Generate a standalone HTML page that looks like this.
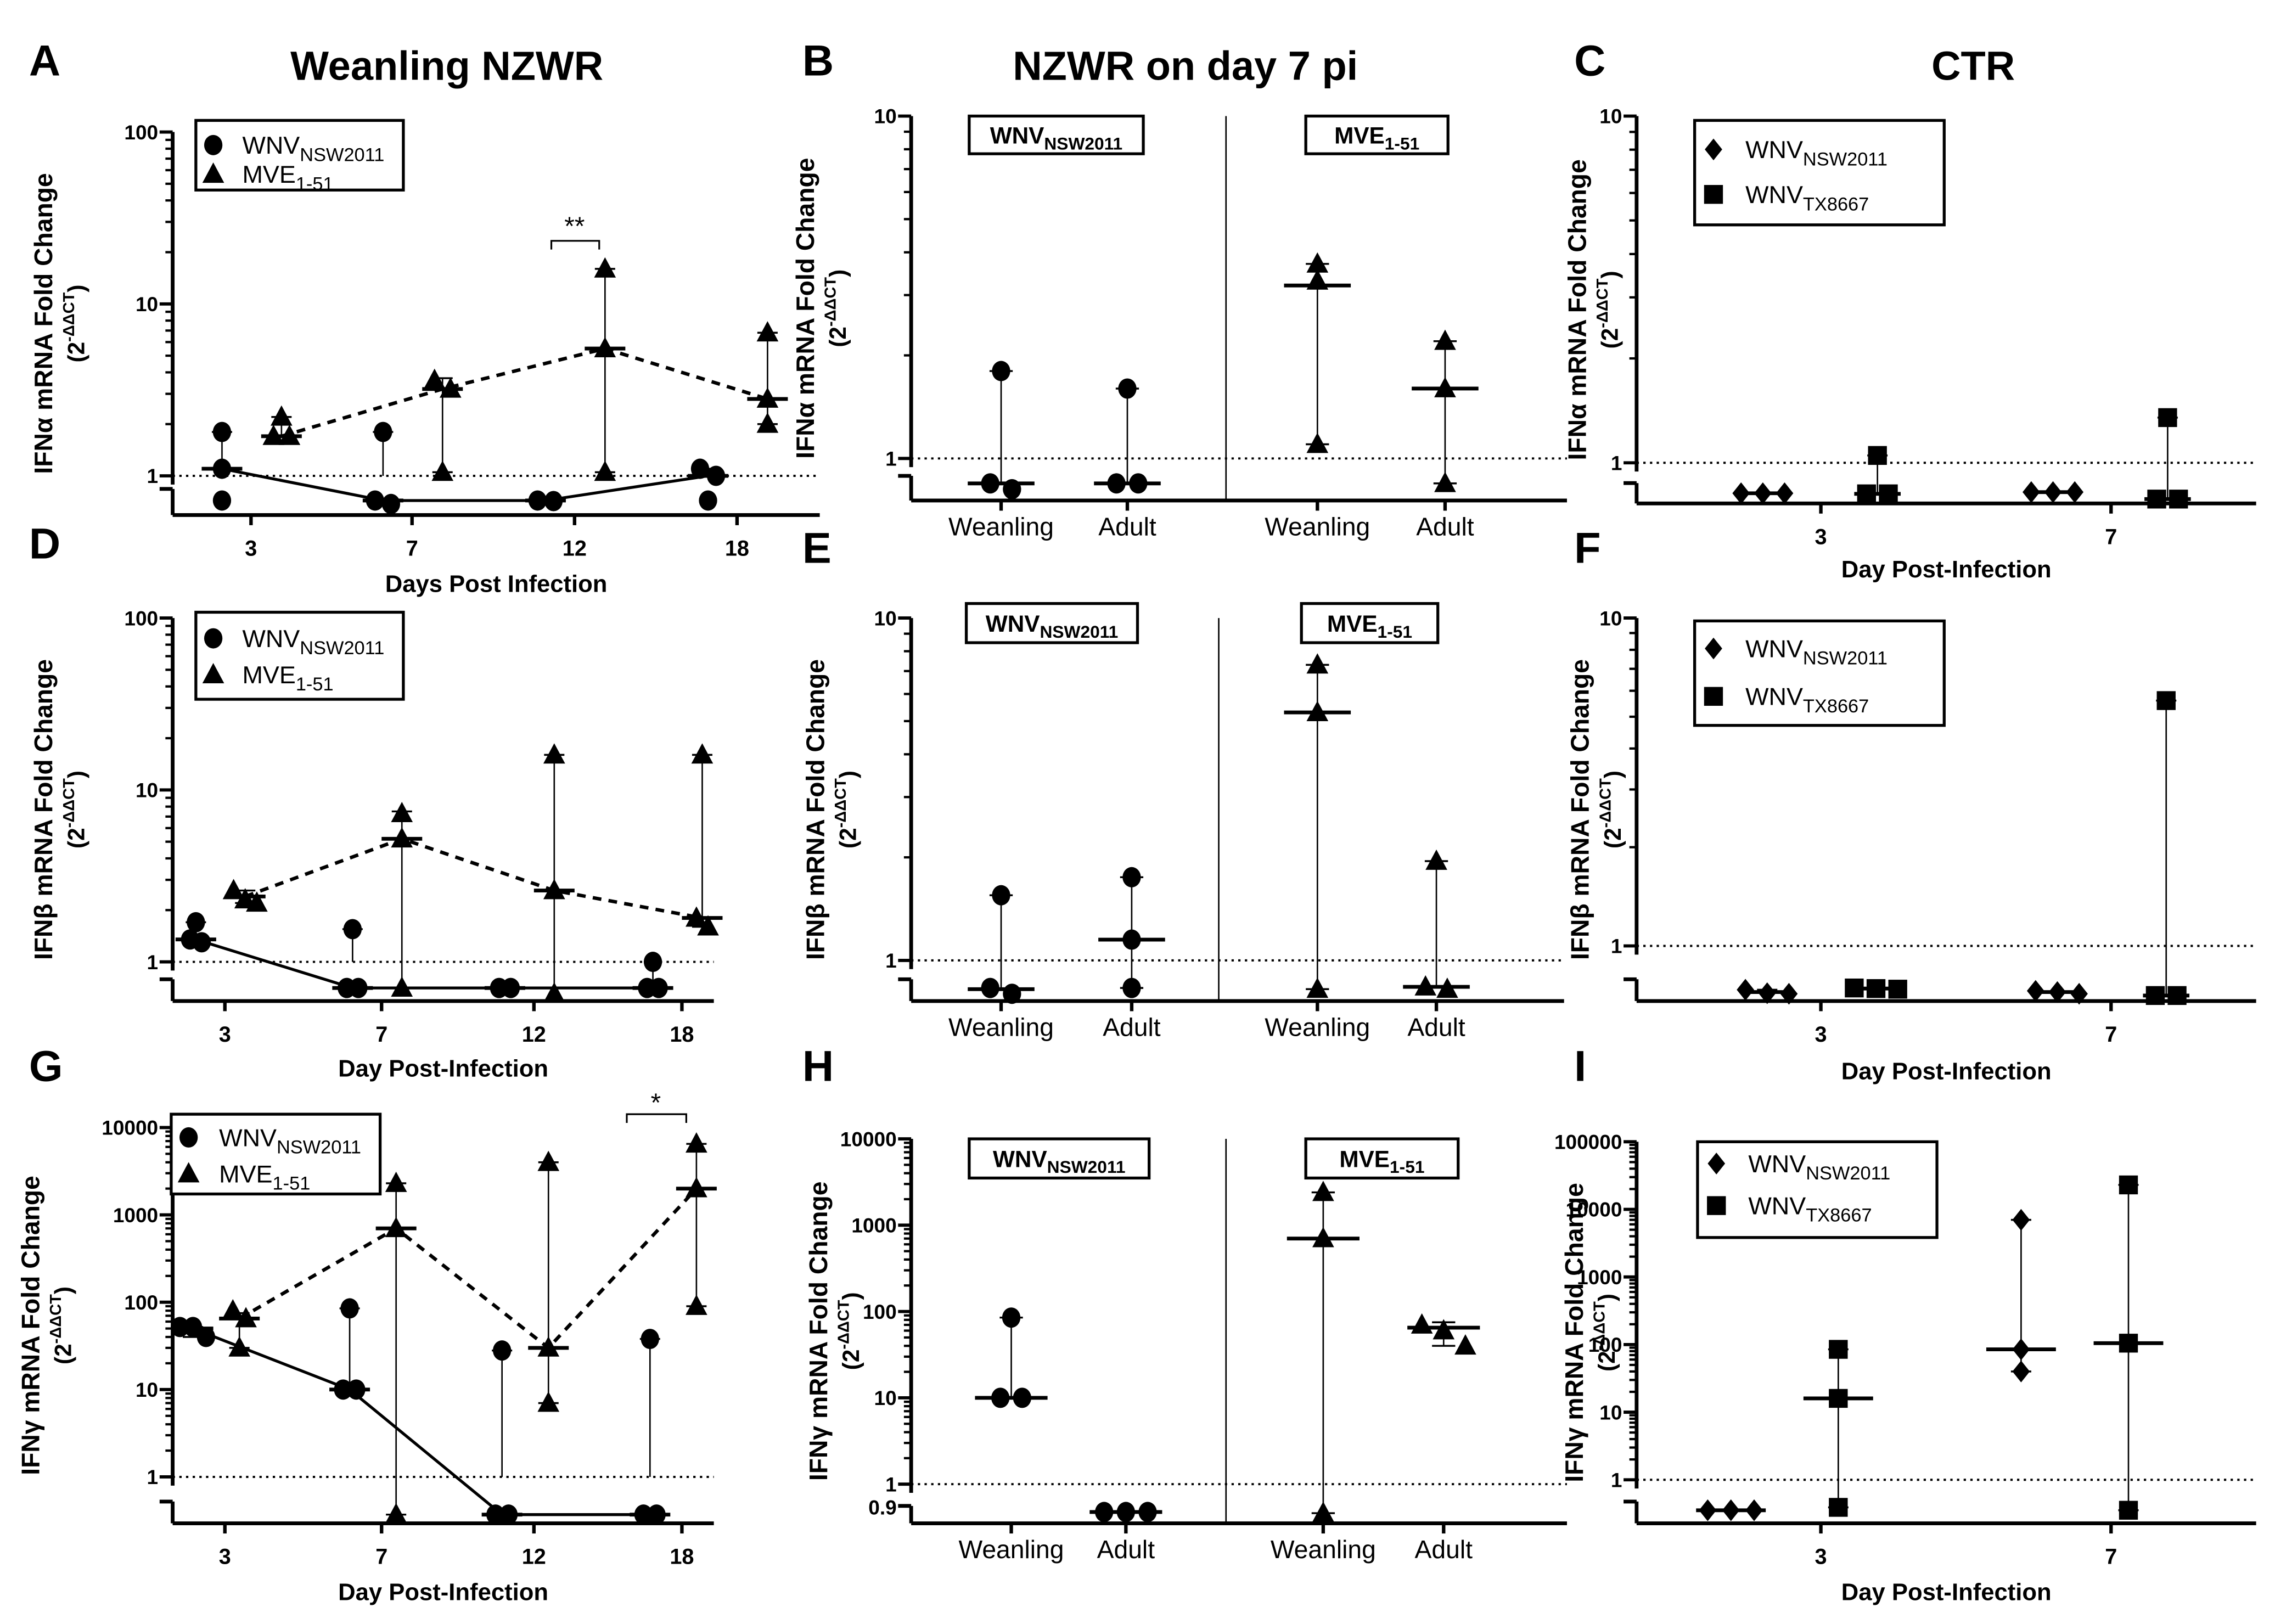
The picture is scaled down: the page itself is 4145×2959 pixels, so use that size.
<!DOCTYPE html>
<html><head><meta charset="utf-8">
<style>
html,body{margin:0;padding:0;background:#fff;}
svg{display:block;}
text{font-family:"Liberation Sans",Arial,sans-serif;fill:#000;}
</style></head>
<body>
<svg id="fig" xmlns="http://www.w3.org/2000/svg" width="4145" height="2959" viewBox="0 0 1568 1119.4" preserveAspectRatio="none">
<rect x="0" y="0" width="1568" height="1120" fill="#fff"/>
<g id="root"></g>
</svg>
<script>
// ---------- DATA ----------
const dayCats4 = ['3','7','12','18'];
const dayCats2 = ['3','7'];
const groupCats = ['Weanling','Adult','Weanling','Adult'];

// Panel A
const A_wnv = [[1.8,1.1,0.7],[1.8,0.64,0.7],[0.7,0.69],[1.1,1.0,0.7]];
const A_wnv_med = [1.1,0.7,0.7,1.0];
const A_wnv_lo = [1.1,1,0.7,1.0];
const A_wnv_hi = [1.8,1.8,0.7,1.1];
const A_mve = [[2.2,1.7,1.7],[3.6,3.2,1.05],[16,5.5,1.05],[6.8,2.8,2.0]];
const A_mve_med = [1.7,3.2,5.5,2.8];
const A_mve_lo = [1.7,1.05,1.05,2.0];
const A_mve_hi = [2.2,3.7,16,6.8];

// Panel B
const B_vals = [[1.8,0.62,0.72],[1.6,0.72,0.72],[3.7,3.3,1.1],[2.2,1.6,0.72]];
const B_med = [0.72,0.72,3.2,1.6];
const B_lo = [0.72,0.72,1.1,0.72];
const B_hi = [1.8,1.6,3.7,2.2];

// Panel C
const C_dia = [[0.7,0.7,0.7],[0.72,0.72,0.72]];
const C_dia_med = [0.7,0.72];
const C_dia_lo = [0.7,0.72];
const C_dia_hi = [0.7,0.72];
const C_sq = [[1.05,0.69,0.69],[1.35,0.6,0.6]];
const C_sq_med = [0.69,0.6];
const C_sq_lo = [0.69,0.6];
const C_sq_hi = [1.05,1.35];

// Panel D
const D_wnv = [[1.7,1.3,1.35],[1.55,0.7,0.7],[0.7,0.7],[1.0,0.7,0.7]];
const D_wnv_med = [1.35,0.7,0.7,0.7];
const D_wnv_lo = [1.3,1,0.7,0.7];
const D_wnv_hi = [1.7,1.55,0.7,1.0];
const D_mve = [[2.6,2.2,2.3],[7.3,5.2,0.7],[16,2.6,0.6],[16,1.6,1.8]];
const D_mve_med = [2.4,5.2,2.6,1.8];
const D_mve_lo = [2.2,0.7,0.7,1.6];
const D_mve_hi = [2.6,7.5,16,16];

// Panel E
const E_vals = [[1.55,0.6,0.7],[1.75,1.15,0.7],[7.3,5.3,0.68],[1.95,0.68,0.72]];
const E_med = [0.68,1.15,5.3,0.72];
const E_lo = [0.68,0.7,0.68,0.72];
const E_hi = [1.55,1.75,7.3,1.95];

// Panel F
const F_dia = [[0.72,0.66,0.65],[0.7,0.65,0.68]];
const F_dia_med = [0.68,0.68];
const F_dia_lo = [0.68,0.68];
const F_dia_hi = [0.72,0.7];
const F_sq = [[0.75,0.73,0.74],[5.6,0.62,0.62]];
const F_sq_med = [0.74,0.62];
const F_sq_lo = [0.74,0.62];
const F_sq_hi = [0.75,5.6];

// Panel G
const G_wnv = [[52,52,40],[85,10,10],[28,0.7,0.7],[38,0.7,0.7]];
const G_wnv_med = [50,10,0.7,0.7];
const G_wnv_lo = [40,10,1,1];
const G_wnv_hi = [52,85,28,38];
const G_mve = [[80,65,30],[2300,700,0.7],[4000,30,7],[6500,2000,90]];
const G_mve_med = [65,700,30,2000];
const G_mve_lo = [30,0.7,7,90];
const G_mve_hi = [75,2300,4000,6500];

// Panel H
const H_vals = [[85,10,10],[0.72,0.72,0.72],[2400,700,0.7],[70,60,40]];
const H_med = [10,0.72,700,65];
const H_lo = [10,0.72,0.7,40];
const H_hi = [85,0.72,2400,75];

// Panel I
const I_dia = [[0.7,0.7,0.7],[7000,85,40]];
const I_dia_med = [0.7,85];
const I_dia_lo = [0.7,40];
const I_dia_hi = [0.7,7000];
const I_sq = [[85,16,0.75],[23000,105,0.7]];
const I_sq_med = [16,105];
const I_sq_lo = [0.75,0.7];
const I_sq_hi = [85,23000];

// ---------- RENDER ----------
const NS='http://www.w3.org/2000/svg';
const root=document.getElementById('root');
function el(tag,attrs,parent){const e=document.createElementNS(NS,tag);for(const k in attrs)e.setAttribute(k,attrs[k]);(parent||root).appendChild(e);return e;}
function txt(s,attrs,parent){const t=el('text',attrs,parent);t.textContent=s;return t;}

function yOf(P,v){return v>=1? P.yOne-Math.log10(v)*P.dec : P.yLow+(0.7-v)*40;}

function marker(g,shape,x,y){
  let m;
  if(shape==='circle') m=el('ellipse',{cx:x,cy:y,rx:6.3,ry:7,fill:'#000'},g);
  else if(shape==='tri') m=el('polygon',{points:`${x},${y-8} ${x+7.5},${y+6} ${x-7.5},${y+6}`,fill:'#000'},g);
  else if(shape==='dia') m=el('polygon',{points:`${x},${y-7.5} ${x+6},${y} ${x},${y+7.5} ${x-6},${y}`,fill:'#000'},g);
  else m=el('rect',{x:x-6.5,y:y-6.5,width:13,height:13,fill:'#000'},g);
  
  
}

function drawAxes(g,P,cats){
  const top=P.yOne-P.nDec*P.dec;
  let a=el('line',{x1:P.ax,y1:top,x2:P.ax,y2:P.yOne+6,stroke:'#000','stroke-width':2.6},g);
  
  el('line',{x1:P.ax,y1:P.yGap,x2:P.ax,y2:P.axisY,stroke:'#000','stroke-width':2.6},g);
  el('line',{x1:P.ax-9,y1:P.yGap,x2:P.ax,y2:P.yGap,stroke:'#000','stroke-width':2.6},g);
  for(let d=0;d<=P.nDec;d++){
    const y=P.yOne-d*P.dec;
    el('line',{x1:P.ax-9,y1:y,x2:P.ax,y2:y,stroke:'#000','stroke-width':2.2},g);
    const t=txt(String(Math.pow(10,d)),{x:P.ax-10,y:y+5,'text-anchor':'end','font-size':14,'font-weight':'bold'},g);
    
    if(d<P.nDec) for(let k=2;k<=9;k++){const yy=y-Math.log10(k)*P.dec;el('line',{x1:P.ax-5,y1:yy,x2:P.ax,y2:yy,stroke:'#000','stroke-width':1.6},g);}
  }
  if(P.lowLabel){const t=txt(P.lowLabel,{x:P.ax-10,y:P.yGap+6,'text-anchor':'end','font-size':14,'font-weight':'bold'},g);}
  let x=el('line',{x1:P.ax,y1:P.axisY,x2:P.x1,y2:P.axisY,stroke:'#000','stroke-width':2.6},g);
  
  el('line',{x1:P.ax,y1:P.yOne,x2:P.x1,y2:P.yOne,stroke:'#000','stroke-width':1.5,'stroke-dasharray':'1.6,3'},g);
  cats.forEach((c,i)=>{
    const cx=P.cats[i];
    el('line',{x1:cx,y1:P.axisY,x2:cx,y2:P.axisY+7,stroke:'#000','stroke-width':2.4},g);
    const t=txt(c,{x:cx,y:P.axisY+(P.catWords?24:28),'text-anchor':'middle','font-size':P.catWords?17.5:15,'font-weight':P.catWords?'normal':'bold'},g);
    
  });
  if(P.xtitle){const t=txt(P.xtitle,{x:(P.ax+P.x1)/2,y:P.xtitleY,'text-anchor':'middle','font-size':16.5,'font-weight':'bold'},g);}
  // y title
  const cy=(top+P.axisY)/2;
  const t1=txt(P.ytitle+' mRNA Fold Change',{x:0,y:0,'text-anchor':'middle','font-size':17.5,'font-weight':'bold',transform:`translate(${P.ax+P.tOff},${cy}) rotate(-90)`},g);
  
  const t2=el('text',{x:0,y:0,'text-anchor':'middle','font-size':16,'font-weight':'bold',transform:`translate(${P.ax+P.tOff+22},${cy}) rotate(-90)`},g);
  
  t2.appendChild(document.createTextNode('(2'));
  const s=el('tspan',{dy:-7,'font-size':11},t2);s.textContent='-ΔΔCT';
  const s2=el('tspan',{dy:7},t2);s2.textContent=')';
}

function drawSeries(g,P,S){
  const meds=[];
  S.vals.forEach((vals,i)=>{
    const cx=P.cats[S.catIdx?S.catIdx[i]:i]+(S.off||0);
    const yl=yOf(P,S.lo[i]),yh=yOf(P,S.hi[i]),ym=yOf(P,S.med[i]);
    if(Math.abs(yl-yh)>1){
      const e=el('line',{x1:cx,y1:yl,x2:cx,y2:yh,stroke:'#000','stroke-width':1},g);
      
      [[yl,S.lo[i]],[yh,S.hi[i]]].forEach(([y,v])=>{if(Math.abs(y-ym)>1 && v!==1)el('line',{x1:cx-P.capW/2,y1:y,x2:cx+P.capW/2,y2:y,stroke:'#000','stroke-width':1.3},g);});
    }
    const mb=el('line',{x1:cx-P.medW/2,y1:ym,x2:cx+P.medW/2,y2:ym,stroke:'#000','stroke-width':2.6},g);
    
    meds.push([cx,ym]);
    const ys=vals.map(v=>yOf(P,v));
    const idx=ys.map((y,k)=>k).sort((a,b)=>ys[a]-ys[b]);
    let clusters=[],cur=[idx[0]];
    for(let k=1;k<idx.length;k++){if(ys[idx[k]]-ys[cur[cur.length-1]]<11)cur.push(idx[k]);else{clusters.push(cur);cur=[idx[k]];}}
    clusters.push(cur);
    clusters.forEach(cl=>cl.forEach((k,j)=>{marker(g,S.shape,cx+(j-(cl.length-1)/2)*P.jit,ys[k]);}));
  });
  if(S.line){
    const p=el('polyline',{points:meds.map(m=>m.join(',')).join(' '),fill:'none',stroke:'#000','stroke-width':S.line==='dash'?2.4:2,'stroke-dasharray':S.line==='dash'?'6,5':'none'},g);
    
  }
}

function legend(g,box,entries){
  const r=el('rect',{x:box[0],y:box[1],width:box[2],height:box[3],fill:'#fff',stroke:'#000','stroke-width':2},g);
  
  entries.forEach(en=>{
    marker(g,en.shape,box[0]+en.mx,en.y);
    const t=el('text',{x:box[0]+en.tx,y:en.y+6,'font-size':17},g);
    
    t.appendChild(document.createTextNode(en.main));
    const s=el('tspan',{dy:5,'font-size':13},t);s.textContent=en.sub;
  });
}
function labelBox(g,x,y,w,h,main,sub){
  const r=el('rect',{x:x,y:y,width:w,height:h,fill:'#fff',stroke:'#000','stroke-width':2},g);
  
  const t=el('text',{x:x+w/2,y:y+h/2+6,'text-anchor':'middle','font-size':16,'font-weight':'bold'},g);
  
  t.appendChild(document.createTextNode(main));
  const s=el('tspan',{dy:4,'font-size':12},t);s.textContent=sub;
}
function panelG(name){const g=el('g',{});return g;}

[['A',20,52],['B',553,52],['C',1085,52],['D',20,385],['E',553,388],['F',1085,388],['G',20,745],['H',553,745],['I',1085,745]].forEach(l=>{
  const t=txt(l[0],{x:l[1],y:l[2],'font-size':30,'font-weight':'bold'});
  
});
[['Weanling NZWR',308],['NZWR on day 7 pi',817],['CTR',1360]].forEach((c,i)=>{
  const t=txt(c[0],{x:c[1],y:55,'text-anchor':'middle','font-size':28,'font-weight':'bold'});
  
});

const legWM=[{shape:'circle',main:'WNV',sub:'NSW2011'},{shape:'tri',main:'MVE',sub:'1-51'}];
const legCT=[{shape:'dia',main:'WNV',sub:'NSW2011'},{shape:'square',main:'WNV',sub:'TX8667'}];

// A
{const P={ax:119,tOff:-83,yOne:328,dec:118.5,nDec:2,yGap:337,yLow:345,axisY:355,x1:565,cats:[173,284,396,508],medW:28,capW:14,jit:11,ytitle:'IFNα',xtitle:'Days Post Infection',xtitleY:408};
 const g=panelG('panel-a');drawAxes(g,P,dayCats4);
 drawSeries(g,P,{vals:A_wnv,med:A_wnv_med,lo:A_wnv_lo,hi:A_wnv_hi,shape:'circle',off:-20,line:'solid'});
 drawSeries(g,P,{vals:A_mve,med:A_mve_med,lo:A_mve_lo,hi:A_mve_hi,shape:'tri',off:21,line:'dash'});
 legend(g,[135,83,143,48],[Object.assign({mx:12,tx:32,y:100},legWM[0]),Object.assign({mx:12,tx:32,y:120},legWM[1])]);
 el('path',{d:'M380,172 V166 H413 V172',fill:'none',stroke:'#000','stroke-width':1.2},g);
 const s=txt('**',{x:396,y:162,'text-anchor':'middle','font-size':18},g);}
// B
{const P={ax:628,tOff:-67,yOne:316,dec:236,nDec:1,yGap:328,yLow:334,axisY:345,x1:1080,cats:[690,777,908,996],medW:46,capW:16,jit:15,ytitle:'IFNα',catWords:true};
 const g=panelG('panel-b');drawAxes(g,P,groupCats);
 drawSeries(g,P,{vals:B_vals.slice(0,2),med:B_med.slice(0,2),lo:B_lo.slice(0,2),hi:B_hi.slice(0,2),shape:'circle'});
 drawSeries(g,P,{vals:B_vals.slice(2),med:B_med.slice(2),lo:B_lo.slice(2),hi:B_hi.slice(2),shape:'tri',catIdx:[2,3]});
 el('line',{x1:845,y1:80,x2:845,y2:345,stroke:'#000','stroke-width':1},g);
 labelBox(g,668,80,120,26,'WNV','NSW2011');labelBox(g,900,80,98,26,'MVE','1-51');}
// C
{const P={ax:1128,tOff:-35,yOne:319,dec:239,nDec:1,yGap:333,yLow:340,axisY:347,x1:1555,cats:[1255,1455],medW:32,capW:14,jit:15,ytitle:'IFNα',xtitle:'Day Post-Infection',xtitleY:398};
 const g=panelG('panel-c');drawAxes(g,P,dayCats2);
 drawSeries(g,P,{vals:C_dia,med:C_dia_med,lo:C_dia_lo,hi:C_dia_hi,shape:'dia',off:-40});
 drawSeries(g,P,{vals:C_sq,med:C_sq_med,lo:C_sq_lo,hi:C_sq_hi,shape:'square',off:39});
 legend(g,[1168,83,172,72],[Object.assign({mx:13,tx:35,y:103},legCT[0]),Object.assign({mx:13,tx:35,y:134},legCT[1])]);}
// D
{const P={ax:119,tOff:-83,yOne:663,dec:118.5,nDec:2,yGap:675,yLow:681,axisY:690,x1:492,cats:[155,263,368,470],medW:28,capW:14,jit:8,ytitle:'IFNβ',xtitle:'Day Post-Infection',xtitleY:742};
 const g=panelG('panel-d');drawAxes(g,P,dayCats4);
 drawSeries(g,P,{vals:D_wnv,med:D_wnv_med,lo:D_wnv_lo,hi:D_wnv_hi,shape:'circle',off:-20,line:'solid'});
 drawSeries(g,P,{vals:D_mve,med:D_mve_med,lo:D_mve_lo,hi:D_mve_hi,shape:'tri',off:14,line:'dash'});
 legend(g,[135,422,143,60],[Object.assign({mx:12,tx:32,y:440},legWM[0]),Object.assign({mx:12,tx:32,y:465},legWM[1])]);}
// E
{const P={ax:628,tOff:-60,yOne:662,dec:236,nDec:1,yGap:675,yLow:681,axisY:690,x1:1078,cats:[690,780,908,990],medW:46,capW:16,jit:15,ytitle:'IFNβ',catWords:true};
 const g=panelG('panel-e');drawAxes(g,P,groupCats);
 drawSeries(g,P,{vals:E_vals.slice(0,2),med:E_med.slice(0,2),lo:E_lo.slice(0,2),hi:E_hi.slice(0,2),shape:'circle'});
 drawSeries(g,P,{vals:E_vals.slice(2),med:E_med.slice(2),lo:E_lo.slice(2),hi:E_hi.slice(2),shape:'tri',catIdx:[2,3]});
 el('line',{x1:840,y1:426,x2:840,y2:690,stroke:'#000','stroke-width':1},g);
 labelBox(g,666,416,118,27,'WNV','NSW2011');labelBox(g,897,416,94,27,'MVE','1-51');}
// F
{const P={ax:1128,tOff:-33,yOne:652,dec:226,nDec:1,yGap:675,yLow:683,axisY:690,x1:1555,cats:[1255,1455],medW:32,capW:14,jit:15,ytitle:'IFNβ',xtitle:'Day Post-Infection',xtitleY:744};
 const g=panelG('panel-f');drawAxes(g,P,dayCats2);
 drawSeries(g,P,{vals:F_dia,med:F_dia_med,lo:F_dia_lo,hi:F_dia_hi,shape:'dia',off:-37});
 drawSeries(g,P,{vals:F_sq,med:F_sq_med,lo:F_sq_lo,hi:F_sq_hi,shape:'square',off:38});
 legend(g,[1168,428,172,72],[Object.assign({mx:13,tx:35,y:447},legCT[0]),Object.assign({mx:13,tx:35,y:480},legCT[1])]);}
// G
{const P={ax:119,tOff:-92,yOne:1018,dec:60.2,nDec:4,yGap:1035,yLow:1044,axisY:1050,x1:492,cats:[155,263,368,470],medW:28,capW:14,jit:9,ytitle:'IFNγ',xtitle:'Day Post-Infection',xtitleY:1103};
 const g=panelG('panel-g');drawAxes(g,P,dayCats4);
 drawSeries(g,P,{vals:G_wnv,med:G_wnv_med,lo:G_wnv_lo,hi:G_wnv_hi,shape:'circle',off:-22,line:'solid'});
 drawSeries(g,P,{vals:G_mve,med:G_mve_med,lo:G_mve_lo,hi:G_mve_hi,shape:'tri',off:10,line:'dash'});
 legend(g,[118,768,144,55],[Object.assign({mx:12,tx:33,y:784},legWM[0]),Object.assign({mx:12,tx:33,y:809},legWM[1])]);
 el('path',{d:'M432,774 V768 H473 V774',fill:'none',stroke:'#000','stroke-width':1.2},g);
 const s=txt('*',{x:452,y:766,'text-anchor':'middle','font-size':18},g);}
// H
{const P={ax:628,tOff:-58,yOne:1023,dec:59.5,nDec:4,yGap:1038,yLow:1043,axisY:1050,x1:1080,cats:[697,776,912,995],medW:50,capW:16,jit:15,ytitle:'IFNγ',catWords:true,lowLabel:'0.9'};
 const g=panelG('panel-h');drawAxes(g,P,groupCats);
 drawSeries(g,P,{vals:H_vals.slice(0,2),med:H_med.slice(0,2),lo:H_lo.slice(0,2),hi:H_hi.slice(0,2),shape:'circle'});
 drawSeries(g,P,{vals:H_vals.slice(2),med:H_med.slice(2),lo:H_lo.slice(2),hi:H_hi.slice(2),shape:'tri',catIdx:[2,3]});
 el('line',{x1:845,y1:785,x2:845,y2:1050,stroke:'#000','stroke-width':1},g);
 labelBox(g,668,785,124,27,'WNV','NSW2011');labelBox(g,900,785,105,27,'MVE','1-51');}
// I
{const P={ax:1128,tOff:-37,yOne:1020,dec:46.6,nDec:5,yGap:1035,yLow:1041,axisY:1050,x1:1555,cats:[1255,1455],medW:48,capW:14,jit:16,ytitle:'IFNγ',xtitle:'Day Post-Infection',xtitleY:1103};
 const g=panelG('panel-i');drawAxes(g,P,dayCats2);
 drawSeries(g,P,{vals:I_dia,med:I_dia_med,lo:I_dia_lo,hi:I_dia_hi,shape:'dia',off:-62});
 drawSeries(g,P,{vals:I_sq,med:I_sq_med,lo:I_sq_lo,hi:I_sq_hi,shape:'square',off:12});
 legend(g,[1170,787,165,66],[Object.assign({mx:13,tx:35,y:802},legCT[0]),Object.assign({mx:13,tx:35,y:831},legCT[1])]);}
</script>
</body></html>
